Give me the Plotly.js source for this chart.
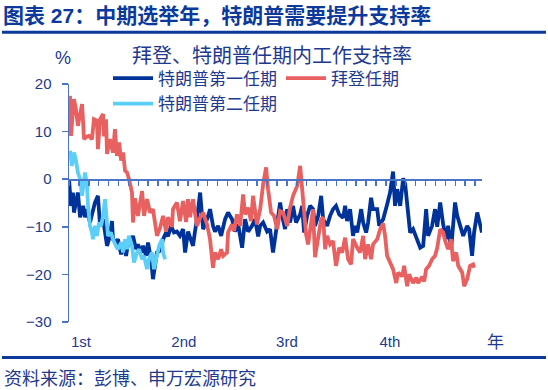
<!DOCTYPE html>
<html>
<head>
<meta charset="utf-8">
<script src="https://cdn.plot.ly/plotly-3.0.1.min.js"></script>
<style>html,body{margin:0;padding:0;background:#fff;}#chart{width:548px;height:390px;}</style>
</head>
<body>
<div id="chart"></div>
<script>
// ---- data (week of term, approval rating net %) ----
const trump1Week = [0,1,2,2.5,3.5,4.5,5.6,7.1,8.1,9.1,10.6,12.1,13.1,14.6,15.7,17.2,18.2,19.2,20.7,21.7,22.2,23.7,24.7,26.3,27.3,28.8,30.3,31.3,32.3,33.8,34.8,36.4,37.4,38.9,39.9,41.4,42.4,43.4,44.4,46,47.5,49,50,51.5,53,54.5,56,57.6,58.6,60.1,61.1,62.6,63.6,64.6,66.2,67.7,69.7,71.2,72.7,73.7,75.3,76.8,78.8,80.3,82.3,83.8,85.4,87.4,88.9,90.4,92.4,93.9,95.5,96.5,98,100,101.5,103,104.5,106.6,107.6,109.1,110.1,111.6,113.1,114.6,116.7,117.7,118.7,120.2,121.7,123.2,124.2,125.8,127.3,128.3,130.3,131.8,133.3,134.8,136.4,138.4,139.4,140.4,141.9,143.4,144.4,145.5,147.5,148.5,150,151,152.5,153.5,155.6,156.6,158.6,159.6,160.6,162.1,163.6,164.6,165.7,167.2,168.7,169.7,170.7,172.2,173.7,175.8,177.3,178.8,180.3,181.3,183.3,184.8,185.9,187.4,188.9,190.4,191.4,192.9,193.9,194.9,196,197.5,199,201,202,203.5,204.5,206.1,207.6,208.5];
const trump1Value = [0,-5.6,-2.8,-7,-4.9,-2.8,-8,-5.6,-8,-6.3,-9.1,-7,-4.9,-3.5,-9.8,-8.4,-11.9,-14,-11.9,-8.8,-12.6,-13.3,-12.6,-15.8,-13.3,-16.1,-12.3,-13.3,-11.9,-14.7,-13.7,-15.4,-14,-16.1,-13.3,-16.8,-21,-17.5,-15.4,-15,-12.6,-11.2,-12,-9.8,-11.2,-11,-11.9,-10.5,-15.4,-11,-12,-14,-11,-8.4,-2.8,-10.5,-8.4,-6.3,-9.8,-11,-9.8,-11.9,-8.4,-7,-8.4,-11,-9.5,-14.4,-8.4,-11,-9.8,-8.4,-12,-9.8,-9.1,-11,-10.5,-15.4,-11,-4.9,-7.7,-10.5,-6.3,-9.1,-5.6,-9.1,-7.4,-5.6,-11.2,-7.7,-5.6,-6.3,-9.8,-7.7,-3.5,-8.4,-9.8,-7.7,-6.3,-5.6,-7.4,-8.1,-5.6,-8.8,-6.3,-11.9,-9.8,-11.2,-6.3,-9.1,-11.2,-9.1,-3.9,-6.3,-6.3,-9.8,-8.4,-7,-5.3,-2.8,1.6,-5.6,-2.1,-5.6,0.2,-1,-4.9,-11.2,-10.5,-12.6,-14.4,-14,-6.3,-11.9,-9.8,-6.3,-10,-4.9,-9.5,-12.6,-9.8,-14.7,-9.8,-4.9,-7.7,-9.8,-11.9,-9.8,-10.5,-16.1,-11.2,-7,-9.8,-11.2];

const bidenWeek = [0.5,1,2.5,3.5,4.5,5.6,6.6,7.6,9.1,10.1,11.6,12.6,14.1,14.6,15.7,17.2,17.7,18.7,19.2,20.7,22.2,23.2,24.2,25.3,26.3,27.3,28.3,29.3,30.3,31.8,32.3,33.3,34.8,36.9,37.9,39.4,40.9,42.4,44.4,46,47.5,49,50,52,52.5,54.5,56,57.6,59.1,60.1,61.1,62.6,64.6,66.2,67.7,69.7,71.2,72.7,73.7,75.3,76.8,77.8,79.8,80.3,82.3,83.3,84.8,86.4,87.9,88.9,90.4,91.9,92.9,94.9,96.5,98,99.5,100.5,102,103.5,105.1,106.6,108.1,110.1,111.6,113.1,115.2,116.7,118.2,119.7,120.7,122.2,123.2,124.2,125.8,127.3,128.3,129.3,130.3,131.8,133.3,134.8,136.4,137.9,139.4,140.9,142.4,143.4,145.5,147,148.5,149.5,151,152.5,153.5,155.6,157.1,158.6,159.6,160.6,162.1,163.6,165.2,166.2,168.2,169.2,170.7,171.7,173.7,175.3,176.3,178.3,179.3,180.3,181.8,183.3,184.8,185.9,187.4,188.9,189.9,191.4,192.9,193.9,195.5,196.5,198.5,199.5,201,202.5,204,204.5];
const bidenValue = [17.5,9.1,16.8,14.7,11.2,13.3,15.8,8.4,9,9.1,8.4,12.6,12.3,6.3,12.6,13.7,9,12.6,5.3,8.4,5.6,10.5,4.9,7.7,3.9,5.6,1.8,1.4,0,-2.8,-9.1,-4,-7.7,-2.5,-7.7,-4.2,-7,-6.3,-11.9,-10.2,-7.7,-11,-8,-10,-6.3,-4.9,-8.8,-4.6,-9,-4.2,-8,-4.2,-9.8,-8.1,-7,-9.5,-12.6,-18.6,-15.4,-16.8,-14.7,-16.1,-15.4,-11.2,-9.5,-10.9,-7.4,-9.8,-3.2,-7.4,-6,-8.8,-3.5,-9.5,-6.3,-1.1,2.5,-2.1,-7,-7.7,-10.5,-6.7,-7,-9.8,-6,-3.5,-1.4,2.8,-3.5,-11.6,-13.7,-9.8,-6.3,-16.4,-12.6,-8.4,-8,-14.7,-11.9,-13.7,-13,-18.2,-14.4,-15.4,-12.3,-16.8,-17.9,-12.6,-14.4,-15.4,-11.9,-16.8,-13.7,-16.8,-13.7,-12.6,-10.5,-9.3,-12,-16.1,-17.5,-18.9,-21.8,-19.6,-20.4,-18.2,-22.5,-20,-21.8,-20.7,-21.8,-20.5,-21.5,-18.9,-18.2,-16.8,-16.1,-14.4,-10.5,-11.2,-13,-14.7,-12.6,-17.2,-15.4,-18.2,-19.6,-22.5,-21,-18.2,-17.9,-18.6];

const trump2Week = [0.5,1.5,2.5,3.5,4.5,5.6,6.6,7.1,8.1,9.1,9.6,10.6,11.6,12.1,13.1,14.1,15.2,16.2,17.2,18.2,19.2,19.7,21.2,22.2,23.7,24.7,26.3,27.3,28.3,29.3,30.3,31.8,32.8,34.3,35.4,36.9,37.9,39.4,40.4,41.9,42.9,44.4,45.5,47,47.5,48.5];
const trump2Value = [6,2.8,5.6,4,1.4,0,-3.5,-2.1,1.4,-1.4,-5.6,-9.8,-11.2,-12.6,-9.8,-11.9,-9.1,-9.8,-7.7,-4.2,-9.8,-11.9,-11.2,-12.6,-14,-14.7,-13.3,-15.4,-12.6,-14.7,-11.9,-14,-17.5,-15.4,-14.7,-16.8,-16.1,-18.9,-16.8,-15.4,-18.9,-16.1,-14,-12.6,-15.4,-16.8];

const yearTickWeek = [6, 58, 110, 162];
const yearTickText = ['1st', '2nd', '3rd', '4th'];
const seriesNames = ['特朗普第一任期', '拜登任期', '特朗普第二任期'];

// ---- styling ----
const TXT = '#1E3A8E';
const AX = '#4A74C6';
const FONT = 'Liberation Sans, Arial, "Noto Sans CJK SC", sans-serif';
const W = 548, H = 390, ML = 69, MR = 66, MT = 84, MB = 68;
const PW = W - ML - MR, PH = H - MT - MB;
const px = x => (x - ML) / PW;
const py = y => (H - MB - y) / PH;

const traces = [
  {x: trump1Week, y: trump1Value, name: seriesNames[0], type: 'scatter', mode: 'lines',
   line: {color: '#003399', width: 3.8}, legend: 'legend'},
  {x: bidenWeek, y: bidenValue, name: seriesNames[1], type: 'scatter', mode: 'lines',
   line: {color: '#E8605F', width: 3.8}, legend: 'legend'},
  {x: trump2Week, y: trump2Value, name: seriesNames[2], type: 'scatter', mode: 'lines',
   line: {color: '#5CCFF8', width: 3.8}, legend: 'legend2'},
  {x: [0], y: [0], xaxis: 'x2', yaxis: 'y', type: 'scatter', mode: 'lines',
   showlegend: false, hoverinfo: 'skip', line: {width: 0}}
];

const legendCommon = {
  orientation: 'h', xanchor: 'left', yanchor: 'middle', itemwidth: 40, entrywidth: 118,
  font: {family: FONT, size: 17, color: TXT}, bgcolor: 'rgba(0,0,0,0)', borderwidth: 0
};

const layout = {
  width: W, height: H,
  margin: {l: ML, r: MR, t: MT, b: MB, pad: 0, autoexpand: false},
  paper_bgcolor: '#fff', plot_bgcolor: '#fff',
  font: {family: FONT, color: TXT},
  hovermode: false,
  title: {
    text: '图表 27：中期选举年，特朗普需要提升支持率',
    xref: 'container', yref: 'container', x: 3 / W, xanchor: 'left',
    y: 1 - 15.5 / H, yanchor: 'middle',
    font: {family: FONT, size: 21, color: '#0B3A9C', weight: 'bold'}
  },
  xaxis: {
    range: [0, 208.5], showline: false, ticks: '', zeroline: false, showgrid: false,
    tickmode: 'array', tickvals: yearTickWeek, ticktext: yearTickText,
    tickfont: {family: FONT, size: 15, color: TXT}, ticklabelstandoff: 9
  },
  xaxis2: {
    overlaying: 'x', anchor: 'free', position: 0.6, side: 'bottom',
    range: [0, 208.5], showline: true, linecolor: AX, linewidth: 1.5,
    ticks: 'outside', ticklen: 5, tickwidth: 1.5, tickcolor: AX,
    tick0: 0, dtick: 5, showticklabels: false, showgrid: false, zeroline: false
  },
  yaxis: {
    range: [-30, 20], tick0: 0, dtick: 10, showline: true, linecolor: AX, linewidth: 1.5,
    ticks: 'outside', ticklen: 6, tickwidth: 1.5, tickcolor: AX,
    showgrid: false, zeroline: false,
    tickfont: {family: FONT, size: 15, color: TXT}, ticklabelstandoff: 7
  },
  legend: Object.assign({x: px(108), y: py(78.5)}, legendCommon),
  legend2: Object.assign({x: px(108), y: py(104)}, legendCommon),
  annotations: [
    {text: '拜登、特朗普任期内工作支持率', xref: 'paper', yref: 'paper', x: px(271.5), y: py(55.5),
     xanchor: 'center', yanchor: 'middle', showarrow: false, font: {family: FONT, size: 20, color: TXT}},
    {text: '%', xref: 'paper', yref: 'paper', x: px(62.5), y: py(58.5),
     xanchor: 'center', yanchor: 'middle', showarrow: false, font: {family: FONT, size: 18, color: TXT}},
    {text: '年', xref: 'paper', yref: 'paper', x: px(495), y: py(342),
     xanchor: 'center', yanchor: 'middle', showarrow: false, font: {family: FONT, size: 17, color: TXT}},
    {text: '资料来源：彭博、申万宏源研究', xref: 'paper', yref: 'paper', x: px(2), y: py(378.5),
     xanchor: 'left', yanchor: 'middle', showarrow: false, font: {family: FONT, size: 18, color: TXT}}
  ],
  shapes: [
    {type: 'line', xref: 'paper', yref: 'paper', x0: px(2), x1: px(546), y0: py(32.3), y1: py(32.3),
     line: {color: '#0B3A9C', width: 3}},
    {type: 'line', xref: 'paper', yref: 'paper', x0: px(2), x1: px(546), y0: py(357.4), y1: py(357.4),
     line: {color: '#0B3A9C', width: 3}}
  ]
};

Plotly.newPlot('chart', traces, layout, {displayModeBar: false, staticPlot: true});
</script>
</body>
</html>
